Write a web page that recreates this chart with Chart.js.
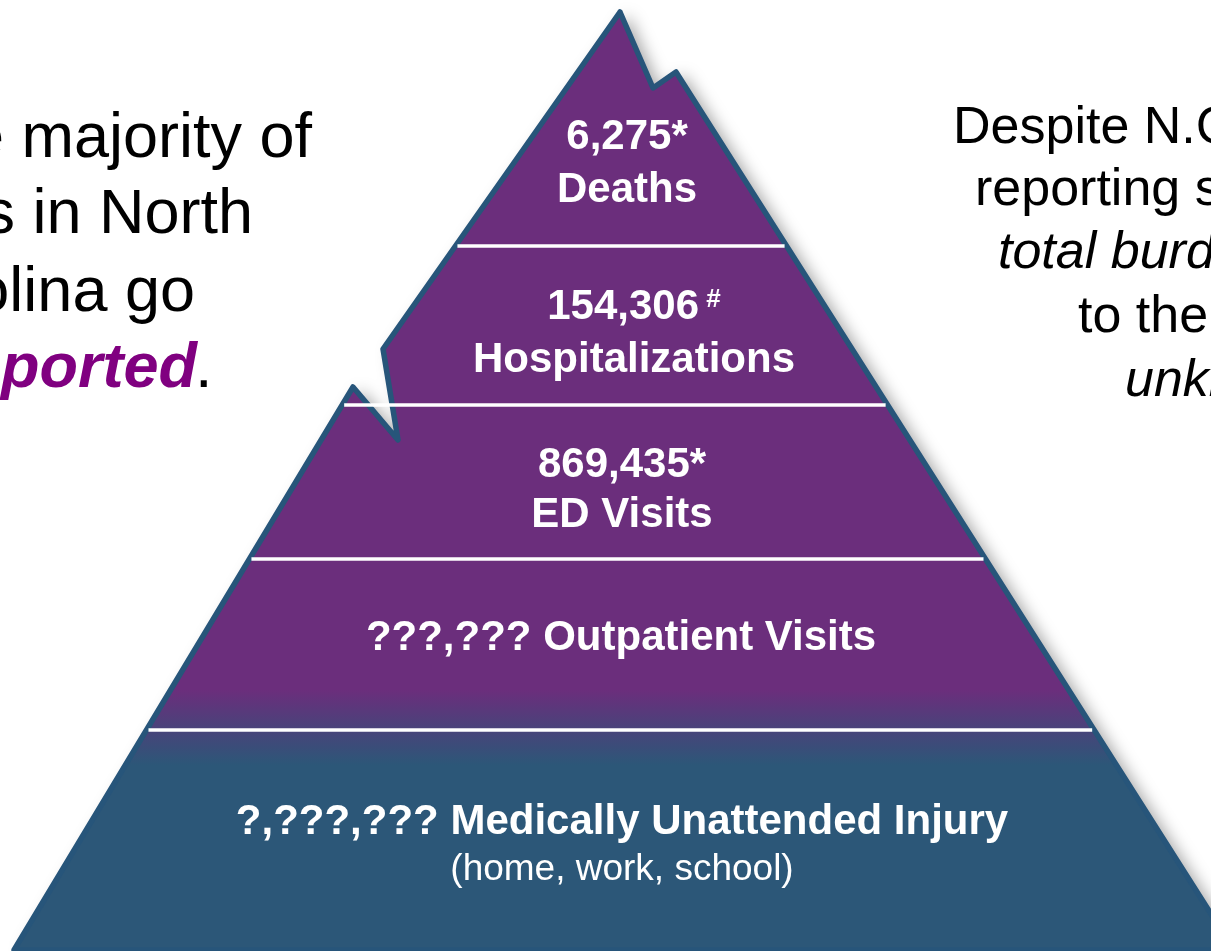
<!DOCTYPE html>
<html>
<head>
<meta charset="utf-8">
<title>Injury pyramid</title>
<script src="https://cdn.jsdelivr.net/npm/chart.js@4"></script>
<style>
  html, body { margin: 0; padding: 0; background: #fff; }
  canvas { display: block; }
</style>
</head>
<body>
<canvas id="pyramid" width="1211" height="951"></canvas>
<script>
// tiers, top to bottom
const tierCounts = ['6,275*', '154,306', '869,435*', '???,???', '?,???,???'];
const tierNames = ['Deaths', 'Hospitalizations', 'ED Visits', 'Outpatient Visits', 'Medically Unattended Injury'];
const tierNotes = ['', '#', '', '', '(home, work, school)'];

const leftLines = ['The majority of', 'injuries in North', 'Carolina go', 'unreported'];
const rightLines = ["Despite N.C.'s robust", 'reporting systems, the', 'total burden of injury', 'to the state is', 'unknown.'];

// pyramid shape, in slide units (y grows downward)
const outlineX = [620, 653, 676, 1234, 14, 353, 398, 383, 620];
const outlineY = [12, 88, 72, 950, 950, 387, 440, 349, 12];
const breakY = [246, 405, 559, 730];

// label placement
const labelX = [627, 634, 622, 621, 622];
const labelRows = [[137, 190], [307, 360], [465, 515], [638], [822, 870]];
const leftRight = [312, 253, 195, 197];
const leftBase = [157, 233, 311, 387];
const rightLeft = [953, 975, 998, 1078, 1125];
const rightBase = [143, 205, 268, 332, 396];

const FONT = "'Liberation Sans', Arial, sans-serif";
const PURPLE = '#6b2e7c';
const BLUE = '#2c5778';
const EDGE = '#27557a';

const outline = outlineX.map((x, i) => ({x: x, y: outlineY[i]}));

// where a horizontal line meets the outline
function edgeSpan(y) {
    const xs = [];
    for (let i = 0; i < outline.length - 1; i++) {
        const a = outline[i], b = outline[i + 1];
        if ((a.y - y) * (b.y - y) <= 0 && a.y !== b.y) {
            xs.push(a.x + (y - a.y) * (b.x - a.x) / (b.y - a.y));
        }
    }
    return [Math.min(...xs), Math.max(...xs)];
}

const dividers = breakY.map(y => {
    const span = edgeSpan(y);
    return {
        data: [{x: span[0] + 2, y: y}, {x: span[1] - 2, y: y}],
        showLine: true,
        borderColor: '#ffffff',
        borderWidth: 3.5,
        pointRadius: 0,
        order: 0
    };
});

const pyramidPaint = {
    id: 'pyramidPaint',
    beforeDatasetDraw(chart, args) {
        if (args.index !== 0) return;
        const ctx = chart.ctx;
        const ys = chart.scales.y;
        const grad = ctx.createLinearGradient(0, ys.getPixelForValue(690), 0, ys.getPixelForValue(765));
        grad.addColorStop(0, PURPLE);
        grad.addColorStop(0.5, '#4a427a');
        grad.addColorStop(1, BLUE);
        ctx.save();
        ctx.shadowColor = 'rgba(0,0,0,0.35)';
        ctx.shadowBlur = 16;
        ctx.shadowOffsetX = 8;
        ctx.shadowOffsetY = 3;
        ctx.beginPath();
        args.meta.data.forEach((p, i) => i ? ctx.lineTo(p.x, p.y) : ctx.moveTo(p.x, p.y));
        ctx.closePath();
        ctx.fillStyle = grad;
        ctx.fill();
        ctx.restore();
    },
    afterDatasetsDraw(chart) {
        const ctx = chart.ctx;
        const xs = chart.scales.x, ys = chart.scales.y;
        const px = v => xs.getPixelForValue(v), py = v => ys.getPixelForValue(v);
        ctx.save();
        ctx.fillStyle = '#ffffff';
        ctx.textBaseline = 'middle';

        tierCounts.forEach((count, i) => {
            const cx = px(labelX[i]);
            const rows = labelRows[i];
            ctx.textAlign = 'center';
            ctx.font = 'bold 42px ' + FONT;
            if (i === 1) {
                // count with superscript mark
                const w1 = ctx.measureText(count).width;
                ctx.font = 'bold 26px ' + FONT;
                const w2 = ctx.measureText(' ' + tierNotes[i]).width;
                const start = cx - (w1 + w2) / 2;
                ctx.textAlign = 'left';
                ctx.font = 'bold 42px ' + FONT;
                ctx.fillText(count, start, py(rows[0]));
                ctx.font = 'bold 26px ' + FONT;
                ctx.fillText(' ' + tierNotes[i], start + w1, py(rows[0]) - 7);
                ctx.textAlign = 'center';
                ctx.font = 'bold 42px ' + FONT;
                ctx.fillText(tierNames[i], cx, py(rows[1]));
            } else if (rows.length === 1 || tierNotes[i]) {
                ctx.fillText(count + ' ' + tierNames[i], cx, py(rows[0]));
                if (tierNotes[i]) {
                    ctx.font = '37px ' + FONT;
                    ctx.fillText(tierNotes[i], cx, py(rows[1]));
                }
            } else {
                ctx.fillText(count, cx, py(rows[0]));
                ctx.fillText(tierNames[i], cx, py(rows[1]));
            }
        });

        // side notes
        ctx.textBaseline = 'alphabetic';
        ctx.fillStyle = '#000000';
        ctx.textAlign = 'right';
        leftLines.forEach((line, i) => {
            const last = i === leftLines.length - 1;
            ctx.font = (last ? 'italic bold ' : '') + '63px ' + FONT;
            ctx.fillStyle = last ? '#800080' : '#000000';
            ctx.fillText(line, px(leftRight[i]), py(leftBase[i]));
            if (last) {
                ctx.fillStyle = '#000000';
                ctx.font = '63px ' + FONT;
                ctx.textAlign = 'left';
                ctx.fillText('.', px(leftRight[i]) - 2, py(leftBase[i]));
                ctx.textAlign = 'right';
            }
        });
        ctx.textAlign = 'left';
        rightLines.forEach((line, i) => {
            ctx.font = (i === 2 || i === 4 ? 'italic ' : '') + '52px ' + FONT;
            ctx.fillText(line, px(rightLeft[i]), py(rightBase[i]));
        });
        ctx.restore();
    }
};

new Chart(document.getElementById('pyramid'), {
    type: 'scatter',
    data: {
        datasets: [{
            data: outline,
            showLine: true,
            borderColor: EDGE,
            borderWidth: 5.5,
            borderJoinStyle: 'round',
            borderCapStyle: 'round',
            pointRadius: 0,
            tension: 0,
            order: 1
        }].concat(dividers)
    },
    options: {
        responsive: false,
        animation: false,
        layout: { padding: 0 },
        plugins: { legend: { display: false }, tooltip: { enabled: false } },
        scales: {
            x: { type: 'linear', min: 0, max: 1211, display: false },
            y: { type: 'linear', min: 0, max: 951, reverse: true, display: false }
        }
    },
    plugins: [pyramidPaint]
});
</script>
</body>
</html>
